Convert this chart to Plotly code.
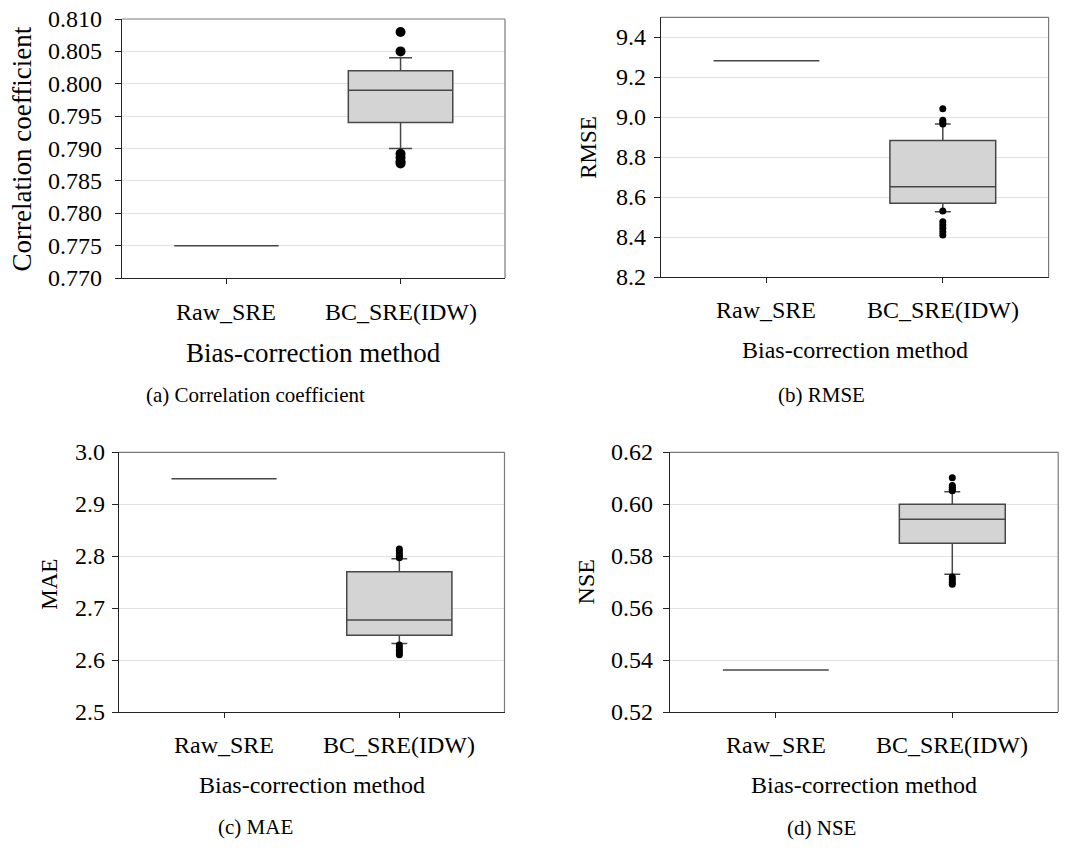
import plotly.graph_objects as go

# ---------------- data ----------------
categories = ["Raw_SRE", "BC_SRE(IDW)"]

# (a) Correlation coefficient
cc_raw = 0.775
cc_stats = dict(lowerfence=0.790, q1=0.794, median=0.799, q3=0.802, upperfence=0.804)
cc_outliers = [0.8080, 0.8050, 0.7892, 0.7886, 0.7880, 0.7877]
cc_ticks = [0.770, 0.775, 0.780, 0.785, 0.790, 0.795, 0.800, 0.805, 0.810]

# (b) RMSE
rmse_raw = 9.283
rmse_stats = dict(lowerfence=8.528, q1=8.570, median=8.653, q3=8.884, upperfence=8.966)
rmse_outliers = [9.043, 8.985, 8.975, 8.966, 8.531, 8.478, 8.462, 8.445, 8.428, 8.412]
rmse_ticks = [8.2, 8.4, 8.6, 8.8, 9.0, 9.2, 9.4]

# (c) MAE
mae_raw = 2.949
mae_stats = dict(lowerfence=2.632, q1=2.648, median=2.677, q3=2.770, upperfence=2.795)
mae_outliers = [2.814, 2.810, 2.805, 2.801, 2.797, 2.629, 2.624, 2.619, 2.614, 2.610]
mae_ticks = [2.5, 2.6, 2.7, 2.8, 2.9, 3.0]

# (d) NSE
nse_raw = 0.5362
nse_stats = dict(lowerfence=0.5730, q1=0.5850, median=0.5942, q3=0.6000, upperfence=0.6048)
nse_outliers = [0.6102, 0.6072, 0.6065, 0.6058, 0.6052, 0.5720, 0.5710, 0.5700, 0.5692]
nse_ticks = [0.52, 0.54, 0.56, 0.58, 0.60, 0.62]

y_titles = ["Correlation coefficient", "RMSE", "MAE", "NSE"]
x_title = "Bias-correction method"
captions = ["(a) Correlation coefficient", "(b) RMSE", "(c) MAE", "(d) NSE"]

# ---------------- layout helpers ----------------
W, H = 1075, 853
OFF = 8  # page body margin offset
FONT = "Liberation Serif"
BOX_FILL = "#d4d4d4"
BOX_LINE = "#474747"
GRID = "#e2e2e2"


def px_x(v):
    return (v - OFF) / W


def px_y(v):
    return 1 - (v - OFF) / H


panels = [
    dict(raw=cc_raw, stats=cc_stats, out=cc_outliers, rng=[0.770, 0.810], ticks=cc_ticks, dec=3,
         box=(122, 505, 19, 278), msize=10, whisk=0.22, ygap=18, xlab=33.7,
         ytitle=(21.5, 149, 27), xtitle=(313.5, 353, 27), cap=(255, 395)),
    dict(raw=rmse_raw, stats=rmse_stats, out=rmse_outliers, rng=[8.2, 9.5], ticks=rmse_ticks, dec=1,
         box=(660.7, 1048.6, 17.3, 277.3), msize=7, whisk=0.15, ygap=13, xlab=32.7,
         ytitle=(588.8, 147, 23), xtitle=(854.6, 350, 24), cap=(821, 395)),
    dict(raw=mae_raw, stats=mae_stats, out=mae_outliers, rng=[2.5, 3.0], ticks=mae_ticks, dec=1,
         box=(118.9, 504.5, 452.3, 712), msize=7, whisk=0.15, ygap=11.5, xlab=33,
         ytitle=(48.8, 584, 23), xtitle=(311.7, 785, 24), cap=(255, 827)),
    dict(raw=nse_raw, stats=nse_stats, out=nse_outliers, rng=[0.52, 0.62], ticks=nse_ticks, dec=2,
         box=(669.9, 1058.2, 452.3, 712), msize=7, whisk=0.15, ygap=14.5, xlab=33,
         ytitle=(586.4, 582, 24), xtitle=(864, 785, 24), cap=(821, 828)),
]

fig = go.Figure()
annotations = []
shapes = []
axes = {}
tick_font = dict(family=FONT, size=24, color="black")

for i, p in enumerate(panels):
    n = "" if i == 0 else str(i + 1)
    xa, ya = "x" + n, "y" + n
    s = p["stats"]
    fig.add_trace(go.Box(
        x=categories,
        q1=[p["raw"], s["q1"]], median=[p["raw"], s["median"]], q3=[p["raw"], s["q3"]],
        lowerfence=[p["raw"], s["lowerfence"]], upperfence=[p["raw"], s["upperfence"]],
        width=0.6, whiskerwidth=p["whisk"], fillcolor=BOX_FILL,
        line=dict(color=BOX_LINE, width=1.5), boxpoints=False, hoverinfo="skip",
        xaxis=xa, yaxis=ya, showlegend=False,
    ))
    fig.add_trace(go.Scatter(
        x=[categories[1]] * len(p["out"]), y=p["out"], mode="markers",
        marker=dict(color="black", size=p["msize"]),
        xaxis=xa, yaxis=ya, showlegend=False,
    ))
    l, r, t, b = p["box"]
    axes["xaxis" + n] = dict(
        domain=[px_x(l), px_x(r)], anchor=ya, type="category",
        categoryorder="array", categoryarray=categories, range=[-0.6, 1.6],
        showline=True, linecolor="#222222", linewidth=1.2,
        ticks="outside", ticklen=5, tickcolor="#222222", tickwidth=1,
        showticklabels=False, showgrid=False, zeroline=False, automargin=False,
    )
    axes["yaxis" + n] = dict(
        domain=[px_y(b), px_y(t)], anchor=xa, range=p["rng"],
        tickmode="array", tickvals=p["ticks"],
        showline=True, linecolor="#222222", linewidth=1.2,
        ticks="outside", ticklen=6, tickcolor="#222222", tickwidth=1,
        showticklabels=False, automargin=False,
        showgrid=True, gridcolor=GRID, gridwidth=1, zeroline=False,
    )
    # tick labels placed through the axes' own scales
    for v in p["ticks"]:
        annotations.append(dict(text=f"{v:.{p['dec']}f}", xref=xa + " domain", x=0, yref=ya, y=v,
                                xanchor="right", yanchor="middle", xshift=-p["ygap"],
                                showarrow=False, font=tick_font))
    for c in categories:
        annotations.append(dict(text=c, xref=xa, x=c, yref=ya + " domain", y=0,
                                xanchor="center", yanchor="middle", yshift=-p["xlab"],
                                showarrow=False, font=tick_font))
    shapes.append(dict(type="line", xref=xa + " domain", yref=ya + " domain",
                       x0=0, x1=1, y0=1, y1=1, line=dict(color="#7a7a7a", width=1.2)))
    shapes.append(dict(type="line", xref=xa + " domain", yref=ya + " domain",
                       x0=1, x1=1, y0=0, y1=1, line=dict(color="#7a7a7a", width=1.2)))
    tx, ty, tsz = p["ytitle"]
    annotations.append(dict(text=y_titles[i], x=px_x(tx), y=px_y(ty), xref="paper", yref="paper",
                            textangle=-90, showarrow=False, xanchor="center", yanchor="middle",
                            font=dict(family=FONT, size=tsz, color="black")))
    tx, ty, tsz = p["xtitle"]
    annotations.append(dict(text=x_title, x=px_x(tx), y=px_y(ty), xref="paper", yref="paper",
                            showarrow=False, xanchor="center", yanchor="middle",
                            font=dict(family=FONT, size=tsz, color="black")))
    cx, cy = p["cap"]
    annotations.append(dict(text=captions[i], x=px_x(cx), y=px_y(cy), xref="paper", yref="paper",
                            showarrow=False, xanchor="center", yanchor="middle",
                            font=dict(family=FONT, size=21, color="black")))

fig.update_layout(
    width=W, height=H, margin=dict(l=0, r=0, t=0, b=0, pad=0, autoexpand=False),
    font=dict(family=FONT, color="black"),
    paper_bgcolor="white", plot_bgcolor="white",
    annotations=annotations, shapes=shapes, showlegend=False,
    boxmode="overlay",
    **axes,
)

fig.write_html("out.html")
